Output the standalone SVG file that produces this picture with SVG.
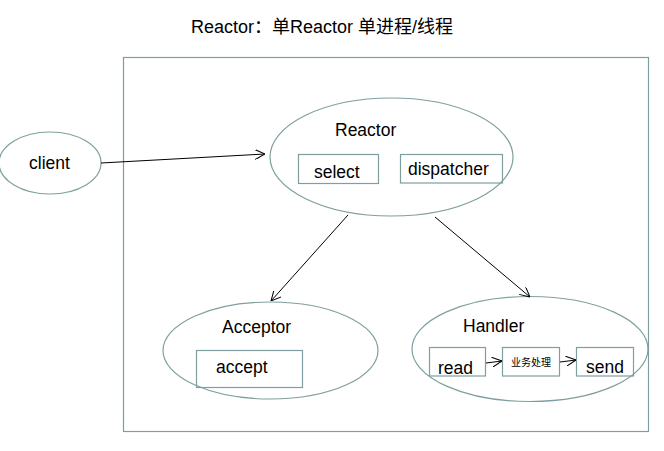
<svg xmlns="http://www.w3.org/2000/svg" width="664" height="451" viewBox="0 0 664 451">
<defs>
<style>
.shape{fill:none;stroke:#7f9f9f;stroke-width:1.2}
.t{font-family:"Liberation Sans",Arial,"Noto Sans CJK SC",sans-serif;font-size:17.5px;fill:#000}
.cjk{font-family:"Liberation Sans","Noto Sans CJK SC",sans-serif;fill:#000}
.conn{fill:none;stroke:#000;stroke-width:1;marker-end:url(#arr)}
</style>
<marker id="arr" viewBox="0 0 10 10" refX="10" refY="5" markerWidth="10" markerHeight="10" markerUnits="userSpaceOnUse" orient="auto">
<path d="M0,0 L10,5 L0,10" fill="none" stroke="#000" stroke-width="1"/>
</marker>
</defs>
<rect width="664" height="451" fill="#fff"/>
<text class="cjk" x="191" y="33" font-size="18">Reactor：单Reactor 单进程/线程</text>
<g id="container"><rect class="shape" x="123.5" y="57.5" width="525" height="374"/></g>
<g id="client">
<ellipse class="shape" cx="50" cy="163" rx="51" ry="31"/>
<text class="t" x="29" y="169">client</text>
</g>
<g id="reactor">
<ellipse class="shape" cx="391.5" cy="157" rx="121.5" ry="59"/>
<text class="t" x="335" y="136">Reactor</text>
<rect class="shape" x="298.5" y="154.5" width="80" height="29"/>
<text class="t" x="314" y="178">select</text>
<rect class="shape" x="400.5" y="154.5" width="102" height="28.5"/>
<text class="t" x="408" y="175">dispatcher</text>
</g>
<g id="acceptor">
<ellipse class="shape" cx="270.5" cy="350.5" rx="107.5" ry="48.5"/>
<text class="t" x="222" y="333">Acceptor</text>
<rect class="shape" x="196.5" y="350.5" width="106" height="37"/>
<text class="t" x="216" y="373">accept</text>
</g>
<g id="handler">
<ellipse class="shape" cx="530" cy="349" rx="118" ry="52.5"/>
<text class="t" x="463" y="332">Handler</text>
<rect class="shape" x="429.5" y="347.5" width="56" height="28.5"/>
<text class="t" x="438" y="374">read</text>
<rect class="shape" x="502.5" y="347.5" width="57" height="28.5"/>
<text class="cjk" x="531" y="366" font-size="10" text-anchor="middle">业务处理</text>
<rect class="shape" x="576.5" y="347.5" width="57" height="28.5"/>
<text class="t" x="586" y="373">send</text>
</g>
<g id="connectors">
<line class="conn" x1="101" y1="163" x2="265" y2="154"/>
<line class="conn" x1="348" y1="215" x2="271" y2="301"/>
<line class="conn" x1="435" y1="217" x2="530" y2="297"/>
<line class="conn" x1="486" y1="363" x2="502" y2="361"/>
<line class="conn" x1="560" y1="362" x2="576" y2="360"/>
</g>
</svg>
